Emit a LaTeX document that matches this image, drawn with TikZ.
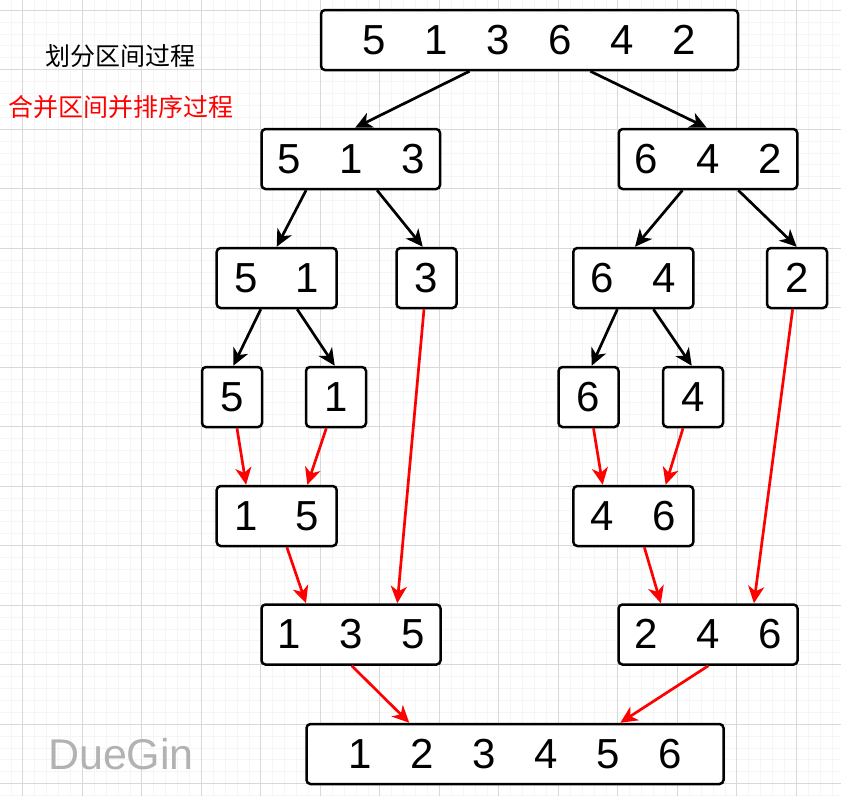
\documentclass[tikz,border=0pt]{standalone}
\usepackage{fontspec}
\setmainfont{Liberation Sans}
\newfontfamily\cjk{Noto Sans CJK SC}
\usetikzlibrary{arrows.meta,calc}
\newcommand\digsep{\hspace{38.6pt}}
\begin{document}
\begin{tikzpicture}[x=1pt,y=-1pt,
  box/.style={draw, line width=2.5pt, rounded corners=4pt, fill=white,
    minimum height=60pt, inner sep=0pt, font=\fontsize{42}{42}\selectfont},
  arr/.style={-{Stealth[length=17pt,width=16pt,inset=5pt]}, line width=2.7pt},
  redarr/.style={arr, draw=red, fill=red},
  minorgrid/.style={draw=black!4, line width=0.6pt},
  majorgrid/.style={draw=black!15, line width=0.8pt}]
\useasboundingbox (0,0) rectangle (841,796);
\begin{scope}
\clip (0,0) rectangle (841,796);
\foreach \i in {-1,...,71} {\draw[minorgrid] ({10.8+\i*11.9},0) -- ({10.8+\i*11.9},796);}
\foreach \i in {-1,...,68} {\draw[minorgrid] (0,{10+\i*11.9}) -- (841,{10+\i*11.9});}
\foreach \i in {-1,...,14} {\draw[majorgrid] ({22.7+\i*59.5},0) -- ({22.7+\i*59.5},796);}
\foreach \i in {-1,...,14} {\draw[majorgrid] (0,{10+\i*59.5}) -- (841,{10+\i*59.5});}
\end{scope}

% labels
\node[font=\cjk\fontsize{25}{25}\selectfont, inner sep=0pt] (lab1) at (120.5,56) {划分区间过程};
\node[font=\cjk\fontsize{25}{25}\selectfont, text=red, inner sep=0pt] (lab2) at (121.5,107) {合并区间并排序过程};
\node[font=\fontsize{43}{43}\selectfont, text=black!30, inner sep=0pt] (logo) at (121,754.5) {DueGin};

% boxes
\node[box, minimum width=417pt] (top) at (529.5,40) {5\digsep1\digsep3\digsep6\digsep4\digsep2};
\node[box, minimum width=178.5pt] (n513) at (350.8,159) {5\digsep1\digsep3};
\node[box, minimum width=178.5pt] (n642) at (708,159) {6\digsep4\digsep2};
\node[box, minimum width=120pt] (n51) at (276.7,278) {5\digsep1};
\node[box, minimum width=60pt] (n3) at (426.5,278) {3};
\node[box, minimum width=120pt] (n64) at (633.3,278) {6\digsep4};
\node[box, minimum width=60pt] (n2) at (797,278) {2};
\node[box, minimum width=60pt] (n5) at (232,397) {5};
\node[box, minimum width=60pt] (n1) at (336,397) {1};
\node[box, minimum width=60pt] (n6) at (588.5,397) {6};
\node[box, minimum width=60pt] (n4) at (693,397) {4};
\node[box, minimum width=120pt] (n15) at (276.7,516) {1\digsep5};
\node[box, minimum width=120pt] (n46) at (633.3,516) {4\digsep6};
\node[box, minimum width=179pt] (n135) at (351,634.5) {1\digsep3\digsep5};
\node[box, minimum width=179pt] (n246) at (708,634.5) {2\digsep4\digsep6};
\node[box, minimum width=417pt] (fin) at (515,754) {1\digsep2\digsep3\digsep4\digsep5\digsep6};

% split arrows (black)
\draw[arr] ($(top.south west)!0.357!(top.south east)$) -- ($(n513.north west)!0.524!(n513.north east)$);
\draw[arr] ($(top.south west)!0.645!(top.south east)$) -- ($(n642.north west)!0.493!(n642.north east)$);
\draw[arr] ($(n513.south west)!0.253!(n513.south east)$) -- ($(n51.north west)!0.5!(n51.north east)$);
\draw[arr] ($(n513.south west)!0.645!(n513.south east)$) -- ($(n3.north west)!0.44!(n3.north east)$);
\draw[arr] ($(n642.south west)!0.359!(n642.south east)$) -- ($(n64.north west)!0.514!(n64.north east)$);
\draw[arr] ($(n642.south west)!0.667!(n642.south east)$) -- ($(n2.north west)!0.495!(n2.north east)$);
\draw[arr] ($(n51.south west)!0.37!(n51.south east)$) -- ($(n5.north west)!0.52!(n5.north east)$);
\draw[arr] ($(n51.south west)!0.667!(n51.south east)$) -- ($(n1.north west)!0.48!(n1.north east)$);
\draw[arr] ($(n64.south west)!0.37!(n64.south east)$) -- ($(n6.north west)!0.55!(n6.north east)$);
\draw[arr] ($(n64.south west)!0.664!(n64.south east)$) -- ($(n4.north west)!0.48!(n4.north east)$);

% merge arrows (red)
\draw[redarr] ($(n5.south west)!0.58!(n5.south east)$) -- ($(n15.north west)!0.25!(n15.north east)$);
\draw[redarr] ($(n1.south west)!0.345!(n1.south east)$) -- ($(n15.north west)!0.75!(n15.north east)$);
\draw[redarr] ($(n3.south west)!0.46!(n3.south east)$) -- ($(n135.north west)!0.755!(n135.north east)$);
\draw[redarr] ($(n15.south west)!0.583!(n15.south east)$) -- ($(n135.north west)!0.252!(n135.north east)$);
\draw[redarr] ($(n6.south west)!0.58!(n6.south east)$) -- ($(n46.north west)!0.25!(n46.north east)$);
\draw[redarr] ($(n4.south west)!0.34!(n4.south east)$) -- ($(n46.north west)!0.764!(n46.north east)$);
\draw[redarr] ($(n2.south west)!0.43!(n2.south east)$) -- ($(n246.north west)!0.753!(n246.north east)$);
\draw[redarr] ($(n46.south west)!0.59!(n46.south east)$) -- ($(n246.north west)!0.24!(n246.north east)$);
\draw[redarr] ($(n135.south west)!0.504!(n135.south east)$) -- ($(fin.north west)!0.248!(fin.north east)$);
\draw[redarr] ($(n246.south west)!0.502!(n246.south east)$) -- ($(fin.north west)!0.751!(fin.north east)$);
\end{tikzpicture}
\end{document}
